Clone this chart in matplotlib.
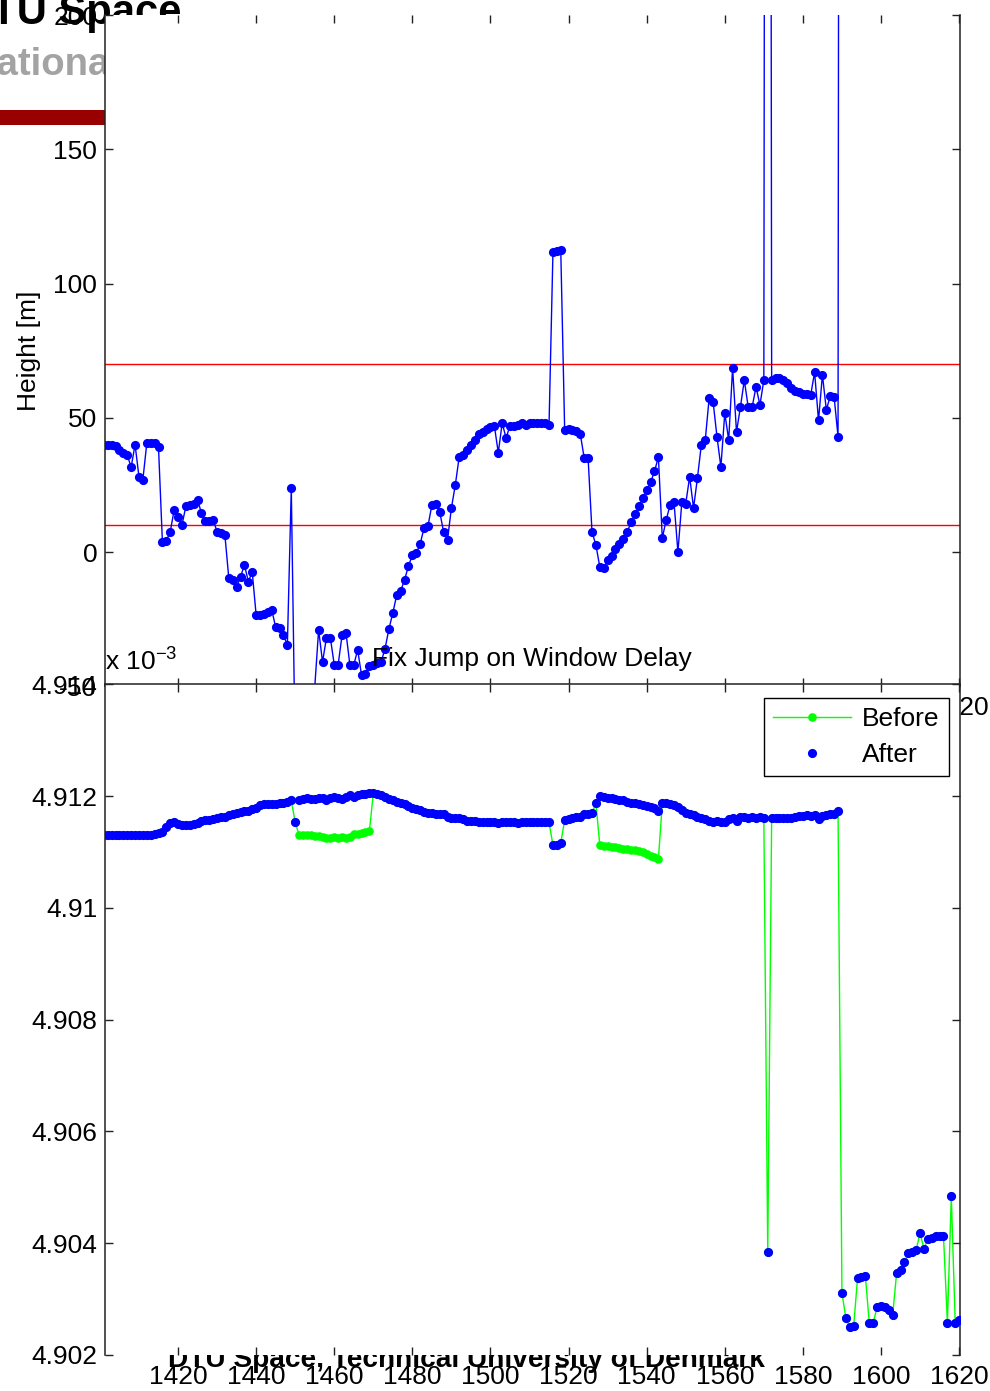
import numpy as np
import matplotlib
matplotlib.use("Agg")
import matplotlib.pyplot as plt
from matplotlib import font_manager as fm
from matplotlib.patches import Rectangle
from matplotlib.transforms import offset_copy

# ---------------------------------------------------------------- data
# Along-track record number
x_start = 1401

# Retracked height [m] (records 1401 ... 1590)
height_m = [
    40, 40, 40, 39.5, 38, 37, 36, 31.7, 40, 28,
    27, 40.5, 40.5, 40.5, 39, 3.7, 4.2, 7.5, 15.6, 13,
    10, 17, 17.5, 18, 19.4, 14.5, 11.5, 11.5, 12, 7.5,
    7, 6.3, -9.7, -10.4, -13, -9.3, -4.8, -11, -7.5, -23.5,
    -23.5, -23, -22.5, -21.6, -28, -28.3, -31, -34.6, 23.8, -75,
    -80, -78, -82, -70, -50.5, -29, -41, -32, -32, -42,
    -42, -31, -30, -42, -42, -36.5, -46, -45.5, -42.5, -42,
    -41.5, -41, -36, -28.7, -22.7, -16, -14.5, -10.4, -5.2, -1.2,
    -0.5, 3, 9, 9.7, 17.5, 18, 15, 7.5, 4.5, 16.4,
    25, 35.5, 36, 38, 40, 41.7, 44, 44.7, 46, 46.5,
    47, 37, 48, 42.5, 47, 47, 47.5, 48, 47.5, 48,
    48, 48, 48, 48, 47.5, 111.8, 112, 112.5, 45.5, 46,
    45.5, 45, 44, 35, 35, 7.5, 2.6, -5.6, -6, -3,
    -1.5, 1, 3, 5, 7.5, 11, 14, 17, 20, 23,
    26, 30, 35.4, 5.2, 12, 17.5, 18.5, 0, 18.6, 18,
    28, 16.4, 27.6, 40, 41.7, 57.4, 56, 43, 31.7, 51.8,
    41.7, 68.5, 44.7, 54, 64, 54, 54, 61.5, 54.8, 64,
    1230, 64, 65, 65, 64, 63, 61, 60, 59.5, 59,
    59, 58.5, 67, 49, 66, 53, 58, 57.7, 43, 1330,
]

# Height limits used for the outlier test [m]
limit_low = 10
limit_high = 70

# Window delay [x 1e-3 s] before the jump correction (records 1401 ... 1620)
delay_before = [
    4.91130, 4.91130, 4.91130, 4.91130, 4.91130, 4.91130, 4.91130, 4.91130, 4.91130, 4.91130,
    4.91130, 4.91130, 4.91131, 4.91132, 4.91133, 4.91135, 4.91145, 4.91152, 4.91153, 4.91150,
    4.91148, 4.91148, 4.91148, 4.91150, 4.91152, 4.91155, 4.91157, 4.91157, 4.91158, 4.91160,
    4.91162, 4.91163, 4.91166, 4.91168, 4.91170, 4.91171, 4.91173, 4.91174, 4.91176, 4.91178,
    4.91184, 4.91186, 4.91186, 4.91186, 4.91186, 4.91187, 4.91188, 4.91190, 4.91192, 4.91153,
    4.91130, 4.91130, 4.91130, 4.91130, 4.91128, 4.91128, 4.91126, 4.91125, 4.91125, 4.91126,
    4.91125, 4.91127, 4.91125, 4.91127, 4.91132, 4.91132, 4.91134, 4.91135, 4.91137, 4.91205,
    4.91203, 4.91201, 4.91198, 4.91195, 4.91192, 4.91190, 4.91188, 4.91185, 4.91182, 4.91179,
    4.91177, 4.91175, 4.91172, 4.91170, 4.91169, 4.91168, 4.91168, 4.91167, 4.91162, 4.91161,
    4.91160, 4.91160, 4.91158, 4.91156, 4.91155, 4.91155, 4.91154, 4.91153, 4.91153, 4.91154,
    4.91153, 4.91152, 4.91153, 4.91154, 4.91153, 4.91153, 4.91152, 4.91153, 4.91154, 4.91153,
    4.91153, 4.91154, 4.91153, 4.91153, 4.91153, 4.91112, 4.91113, 4.91116, 4.91157, 4.91158,
    4.91160, 4.91162, 4.91163, 4.91167, 4.91168, 4.91170, 4.91187, 4.91112, 4.91111, 4.91110,
    4.91109, 4.91108, 4.91107, 4.91106, 4.91105, 4.91104, 4.91103, 4.91101, 4.91099, 4.91096,
    4.91093, 4.91090, 4.91087, 4.91187, 4.91187, 4.91186, 4.91184, 4.91180, 4.91175, 4.91170,
    4.91168, 4.91166, 4.91163, 4.91160, 4.91158, 4.91156, 4.91154, 4.91155, 4.91153, 4.91154,
    4.91158, 4.91160, 4.91155, 4.91162, 4.91163, 4.91160, 4.91162, 4.91161, 4.91163, 4.91160,
    4.90384, 4.91160, 4.91160, 4.91161, 4.91161, 4.91161, 4.91160, 4.91162, 4.91164, 4.91165,
    4.91166, 4.91165, 4.91166, 4.91158, 4.91165, 4.91166, 4.91167, 4.91167, 4.91173, 4.90311,
    4.90266, 4.90250, 4.90252, 4.90338, 4.90340, 4.90341, 4.90257, 4.90257, 4.90286, 4.90287,
    4.90286, 4.90280, 4.90272, 4.90347, 4.90352, 4.90366, 4.90382, 4.90384, 4.90388, 4.90418,
    4.90390, 4.90408, 4.90410, 4.90412, 4.90413, 4.90413, 4.90258, 4.90484, 4.90258, 4.90262,
]

# Window delay [x 1e-3 s] after the jump correction (records 1401 ... 1620)
delay_after = [
    4.91130, 4.91130, 4.91130, 4.91130, 4.91130, 4.91130, 4.91130, 4.91130, 4.91130, 4.91130,
    4.91130, 4.91130, 4.91131, 4.91132, 4.91133, 4.91135, 4.91145, 4.91152, 4.91153, 4.91150,
    4.91148, 4.91148, 4.91148, 4.91150, 4.91152, 4.91155, 4.91157, 4.91157, 4.91158, 4.91160,
    4.91162, 4.91163, 4.91166, 4.91168, 4.91170, 4.91171, 4.91173, 4.91174, 4.91176, 4.91178,
    4.91184, 4.91186, 4.91186, 4.91186, 4.91186, 4.91187, 4.91188, 4.91190, 4.91192, 4.91153,
    4.91193, 4.91195, 4.91196, 4.91195, 4.91194, 4.91196, 4.91197, 4.91193, 4.91196, 4.91199,
    4.91197, 4.91195, 4.91198, 4.91201, 4.91199, 4.91202, 4.91203, 4.91204, 4.91205, 4.91205,
    4.91203, 4.91201, 4.91198, 4.91195, 4.91192, 4.91190, 4.91188, 4.91185, 4.91182, 4.91179,
    4.91177, 4.91175, 4.91172, 4.91170, 4.91169, 4.91168, 4.91168, 4.91167, 4.91162, 4.91161,
    4.91160, 4.91160, 4.91158, 4.91156, 4.91155, 4.91155, 4.91154, 4.91153, 4.91153, 4.91154,
    4.91153, 4.91152, 4.91153, 4.91154, 4.91153, 4.91153, 4.91152, 4.91153, 4.91154, 4.91153,
    4.91153, 4.91154, 4.91153, 4.91153, 4.91153, 4.91112, 4.91113, 4.91116, 4.91157, 4.91158,
    4.91160, 4.91162, 4.91163, 4.91167, 4.91168, 4.91170, 4.91187, 4.91200, 4.91199, 4.91197,
    4.91196, 4.91195, 4.91193, 4.91192, 4.91190, 4.91188, 4.91187, 4.91185, 4.91184, 4.91183,
    4.91181, 4.91178, 4.91173, 4.91187, 4.91187, 4.91186, 4.91184, 4.91180, 4.91175, 4.91170,
    4.91168, 4.91166, 4.91163, 4.91160, 4.91158, 4.91156, 4.91154, 4.91155, 4.91153, 4.91154,
    4.91158, 4.91160, 4.91155, 4.91162, 4.91163, 4.91160, 4.91162, 4.91161, 4.91163, 4.91160,
    4.90384, 4.91160, 4.91160, 4.91161, 4.91161, 4.91161, 4.91160, 4.91162, 4.91164, 4.91165,
    4.91166, 4.91165, 4.91166, 4.91158, 4.91165, 4.91166, 4.91167, 4.91167, 4.91173, 4.90311,
    4.90266, 4.90250, 4.90252, 4.90338, 4.90340, 4.90341, 4.90257, 4.90257, 4.90286, 4.90287,
    4.90286, 4.90280, 4.90272, 4.90347, 4.90352, 4.90366, 4.90382, 4.90384, 4.90388, 4.90418,
    4.90390, 4.90408, 4.90410, 4.90412, 4.90413, 4.90413, 4.90258, 4.90484, 4.90258, 4.90262,
]

x_ticks = [1420, 1440, 1460, 1480, 1500, 1520, 1540, 1560, 1580, 1600, 1620]
x_tick_labels = ["1420", "1440", "1460", "1480", "1500", "1520", "1540",
                 "1560", "1580", "1600", "1620"]
h_ticks = [-50, 0, 50, 100, 150, 200]
h_tick_labels = ["-50", "0", "50", "100", "150", "200"]
d_ticks = [4.902, 4.904, 4.906, 4.908, 4.910, 4.912, 4.914]
d_tick_labels = ["4.902", "4.904", "4.906", "4.908", "4.91", "4.912", "4.914"]

# ---------------------------------------------------------------- fonts
def font_available(name):
    try:
        fm.findfont(fm.FontProperties(family=name), fallback_to_default=False)
        return True
    except Exception:
        return False

if font_available("Liberation Sans Narrow"):
    FONT, FS = "Liberation Sans Narrow", 22
else:
    FONT, FS = "Liberation Sans", 19

plt.rcParams["font.family"] = [FONT, "DejaVu Sans"]
plt.rcParams["mathtext.fontset"] = "custom"
plt.rcParams["mathtext.rm"] = FONT
plt.rcParams["mathtext.it"] = FONT
plt.rcParams["axes.unicode_minus"] = False

W, H = 990, 1391
fig = plt.figure(figsize=(W / 100, H / 100), dpi=100, facecolor="white")
renderer = fig.canvas.get_renderer()


def text_width(s, size, weight="normal"):
    t = fig.text(0, 0, s, fontsize=size, weight=weight)
    w = t.get_window_extent(renderer).width
    t.remove()
    return w


def fit_size(s, target_px, weight="normal"):
    return 30 * target_px / text_width(s, 30, weight)


# ---------------------------------------------------------------- slide header / footer
logo_fs = fit_size("Space", 123, "bold")
fig.text(181 / W, 1 - 24 / H, "DTU Space", fontsize=logo_fs, weight="bold",
         color="black", ha="right", va="baseline", zorder=-5)

sub_fs = fit_size("ationa", 113, "bold")
n_w = text_width("N", sub_fs, "bold")
fig.text((-3 - n_w) / W, 1 - 75 / H, "National Space Institute", fontsize=sub_fs,
         weight="bold", color="#a3a3a3", ha="left", va="baseline", zorder=-5)

fig.add_artist(Rectangle((0, 1 - 125 / H), 120 / W, 15 / H, transform=fig.transFigure,
                         facecolor="#990000", edgecolor="none", zorder=-6))

foot_fs = fit_size("DTU Space, Technical University of Denmark", 597, "bold")
fig.text(168 / W, 1 - 1367 / H, "DTU Space, Technical University of Denmark",
         fontsize=foot_fs, weight="bold", color="black", ha="left", va="baseline",
         zorder=-5)

# ---------------------------------------------------------------- axes
left = 105 / W
width = 854.5 / W
ax_h = fig.add_axes([left, 1 - 686.2 / H, width, 671 / H])
ax_d = fig.add_axes([left, 1 - 1355 / H, width, 670.8 / H])

xlim = (1401.3, 1620.1)
spine_col = "#222222"

for ax in (ax_h, ax_d):
    ax.set_facecolor("white")
    ax.set_xlim(*xlim)
    ax.set_xticks(x_ticks)
    ax.set_xticklabels(x_tick_labels)
    ax.tick_params(direction="in", length=6, width=1.0, color=spine_col,
                   top=True, right=True, labelsize=FS, labelcolor="black")
    ax.tick_params(axis="x", pad=7)
    ax.tick_params(axis="y", pad=5.5)
    for sp in ax.spines.values():
        sp.set_color(spine_col)
        sp.set_linewidth(1.1)

# upper panel: height
rec_h = np.arange(x_start, x_start + len(height_m))
ax_h.axhline(limit_low, color="#ff0000", lw=1.0, zorder=1)
ax_h.axhline(limit_high, color="#ff0000", lw=1.0, zorder=1)
ax_h.plot(rec_h, height_m, color="#0000ff", lw=1.0, marker="o", ms=6.6,
          mec="none", mfc="#0000ff", zorder=3)
ax_h.set_ylim(-50, 200)
ax_h.set_yticks(h_ticks)
ax_h.set_yticklabels(h_tick_labels)
ax_h.set_ylabel("Height [m]", fontsize=FS, labelpad=9)
ax_h.spines["top"].set_visible(False)

# lower panel: window delay
rec_d = np.arange(x_start, x_start + len(delay_after))
ax_d.plot(rec_d, delay_before, color="#00ff00", lw=1.0, marker="o", ms=6.2,
          mec="none", mfc="#00ff00", label="Before", zorder=2)
ax_d.plot(rec_d, delay_after, ls="none", marker="o", ms=6.6, mec="none",
          mfc="#0000ff", label="After", zorder=3)
ax_d.set_ylim(4.902, 4.914)
ax_d.set_yticks(d_ticks)
ax_d.set_yticklabels(d_tick_labels)
ax_d.spines["bottom"].set_visible(False)
ax_d.set_title("Fix Jump on Window Delay", fontsize=FS, pad=13)
ax_d.text(0, 1, r"x 10$^{-3}$", fontsize=FS, ha="left", va="baseline",
          transform=offset_copy(ax_d.transAxes, fig=fig, x=0, y=14, units="dots"))

leg = ax_d.legend(loc="upper right",
                  bbox_to_anchor=(1 - 11 / 854.5, 1 - 14 / 670.8),
                  borderaxespad=0, fontsize=FS, frameon=True, fancybox=False,
                  edgecolor="black", framealpha=1,
                  handlelength=2.95, handletextpad=0.42, labelspacing=0.46,
                  borderpad=0.34)
leg.get_frame().set_linewidth(1.0)

fig.savefig("out.png", dpi=100, facecolor="white")
